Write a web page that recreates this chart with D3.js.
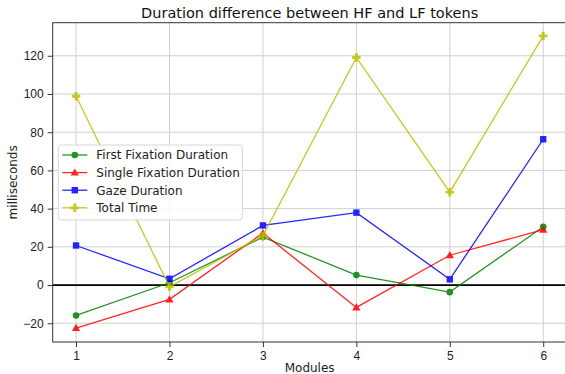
<!DOCTYPE html>
<html>
<head>
<meta charset="utf-8">
<script src="https://cdn.jsdelivr.net/npm/d3@7"></script>
<style>
  body { margin: 0; background: #fff; }
  svg { font-family: "DejaVu Sans", sans-serif; display: block; }
  .tick text { font-size: 12px; fill: #222; }
  .tick line { stroke: #333; }
  .domain { display: none; }
</style>
</head>
<body>
<div id="chart"></div>
<script>
// chart data
const modules = [1, 2, 3, 4, 5, 6];
const firstFixation = [-15.9, 1.2, 25.1, 5.2, -3.7, 30.5];
const singleFixation = [-22.5, -7.5, 27.2, -11.7, 15.6, 29];
const gazeDuration = [20.7, 3.3, 31.2, 37.9, 3.0, 76.3];
const totalTime = [98.8, -0.9, 25.8, 119.1, 48.6, 130.4];
const yTicks = [-20, 0, 20, 40, 60, 80, 100, 120];

const series = [
  {name: "First Fixation Duration", values: firstFixation, color: "#008000", marker: "circle"},
  {name: "Single Fixation Duration", values: singleFixation, color: "#ff0000", marker: "triangle"},
  {name: "Gaze Duration", values: gazeDuration, color: "#0000ff", marker: "square"},
  {name: "Total Time", values: totalTime, color: "#bfbf00", marker: "plus"}
];

const W = 565, H = 374;
const margin = {top: 22.7, right: -1.6, bottom: 32, left: 52.7};
const width = W - margin.left - margin.right;
const height = H - margin.top - margin.bottom;

const svg = d3.select("#chart").append("svg")
    .attr("width", W).attr("height", H);
const g = svg.append("g")
    .attr("transform", `translate(${margin.left},${margin.top})`);

const x = d3.scaleLinear().domain([0.75, 6.25]).range([0, width]);
const y = d3.scaleLinear().domain([-29.8, 137.3]).range([height, 0]);

// grid
g.append("g").selectAll("line").data(modules).join("line")
    .attr("x1", d => x(d)).attr("x2", d => x(d))
    .attr("y1", 0).attr("y2", height)
    .attr("stroke", "#d0d0d0").attr("stroke-width", 1);
g.append("g").selectAll("line").data(yTicks).join("line")
    .attr("x1", 0).attr("x2", width)
    .attr("y1", d => y(d)).attr("y2", d => y(d))
    .attr("stroke", "#d0d0d0").attr("stroke-width", 1);

// zero line
g.append("line")
    .attr("x1", 0).attr("x2", width)
    .attr("y1", y(0)).attr("y2", y(0))
    .attr("stroke", "#000").attr("stroke-width", 1.8);

// axes
g.append("g")
    .attr("transform", `translate(0,${height})`)
    .call(d3.axisBottom(x).tickValues(modules).tickFormat(d3.format("d")).tickSize(5).tickPadding(4));
g.append("g")
    .call(d3.axisLeft(y).tickValues(yTicks).tickFormat(d => d < 0 ? "\u2212" + Math.abs(d) : d).tickSize(5).tickPadding(4));

// frame
g.append("rect")
    .attr("width", width).attr("height", height)
    .attr("fill", "none").attr("stroke", "#333").attr("stroke-width", 1);

// lines
const line = d3.line().x((d, i) => x(modules[i])).y(d => y(d));

function drawMarker(sel, type, color, cx, cy) {
  if (type === "circle") {
    sel.append("circle").attr("cx", cx).attr("cy", cy).attr("r", 3.3).attr("fill", color);
  } else if (type === "triangle") {
    sel.append("path").attr("d", d3.symbol(d3.symbolTriangle, 30)())
        .attr("transform", `translate(${cx},${cy + 0.6})`).attr("fill", color);
  } else if (type === "square") {
    sel.append("rect").attr("x", cx - 3.2).attr("y", cy - 3.2)
        .attr("width", 6.4).attr("height", 6.4).attr("fill", color);
  } else {
    sel.append("path").attr("d", d3.symbol(d3.symbolCross, 40)())
        .attr("transform", `translate(${cx},${cy})`).attr("fill", color);
  }
}

series.forEach(s => {
  const sg = g.append("g").attr("opacity", 0.85);
  sg.append("path").datum(s.values)
      .attr("d", line).attr("fill", "none")
      .attr("stroke", s.color).attr("stroke-width", 1.3);
  s.values.forEach((v, i) => drawMarker(sg, s.marker, s.color, x(modules[i]), y(v)));
});

// title and labels
svg.append("text")
    .attr("x", margin.left + width / 2).attr("y", 18)
    .attr("text-anchor", "middle").style("font-size", "14.5px").attr("fill", "#111")
    .text("Duration difference between HF and LF tokens");
svg.append("text")
    .attr("x", margin.left + width / 2).attr("y", 371.5)
    .attr("text-anchor", "middle").style("font-size", "12px").attr("fill", "#222")
    .text("Modules");
svg.append("text")
    .attr("transform", `translate(16.5,${margin.top + height / 2}) rotate(-90)`)
    .attr("text-anchor", "middle").style("font-size", "12px").attr("fill", "#222")
    .text("milliseconds");

// legend
const legend = svg.append("g").attr("transform", "translate(58.3,145)");
legend.append("rect")
    .attr("width", 184).attr("height", 75).attr("rx", 3)
    .attr("fill", "#fff").attr("fill-opacity", 0.85)
    .attr("stroke", "#d6d6d6");
series.forEach((s, i) => {
  const ly = 10 + i * 17.6;
  const lg = legend.append("g").attr("opacity", 0.85);
  lg.append("line").attr("x1", 4).attr("x2", 29).attr("y1", ly).attr("y2", ly)
      .attr("stroke", s.color).attr("stroke-width", 1.3);
  drawMarker(lg, s.marker, s.color, 16.5, ly);
  legend.append("text").attr("x", 38).attr("y", ly + 4.3)
      .style("font-size", "12px").attr("fill", "#222").text(s.name);
});
</script>
</body>
</html>
